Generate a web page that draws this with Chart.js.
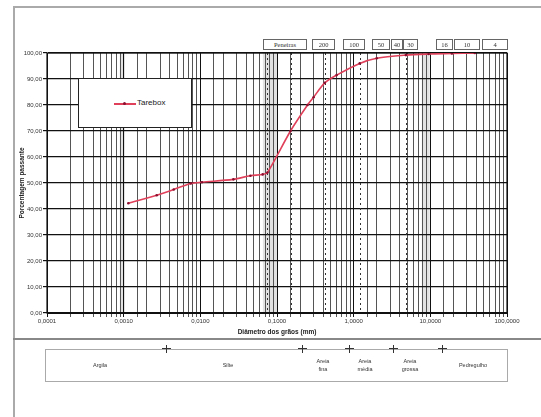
<!DOCTYPE html>
<html>
<head>
<meta charset="utf-8">
<script src="https://cdn.jsdelivr.net/npm/chart.js@4.4.1/dist/chart.umd.min.js"></script>
<style>
  html,body{margin:0;padding:0;background:#fff;}
  body{width:541px;height:417px;position:relative;overflow:hidden;font-family:"Liberation Sans",Arial,sans-serif;}
  #frameL{position:absolute;left:13px;top:6px;width:2px;height:411px;background:#aaa;}
  #frameT{position:absolute;left:13px;top:6px;width:528px;height:2px;background:#aaa;}
  #sep{position:absolute;left:13px;top:338px;width:528px;height:2px;background:#888;}
  #wrap{position:absolute;left:0;top:0;width:541px;height:345px;}
  .hbox{position:absolute;top:39px;height:11px;border:1px solid #666;box-sizing:border-box;background:#fff;
        font-family:"Liberation Serif","Times New Roman",serif;font-size:6.5px;line-height:9px;color:#333;text-align:center;}
  #legend{position:absolute;left:78px;top:78px;width:114px;height:50px;background:#fff;border:1px solid #222;box-sizing:border-box;}
  #legend .ln{position:absolute;left:35px;top:24px;width:22px;height:1.5px;background:#e0405a;}
  #legend .dot{position:absolute;left:44px;top:23px;width:3px;height:3px;border-radius:50%;background:#8a1030;}
  #legend .tx{position:absolute;left:58px;top:19px;font-size:8px;color:#222;}
  #cls{position:absolute;left:45px;top:349px;width:463px;height:33px;border:1px solid #aaa;box-sizing:border-box;}
  .tick{position:absolute;top:345px;width:1px;height:8px;background:#333;}
  .tickh{position:absolute;top:348px;width:9px;height:1px;background:#333;}
  .cl{position:absolute;font-size:5.5px;line-height:8px;color:#333;text-align:center;width:50px;margin-left:-25px;}
</style>
</head>
<body>
<div id="frameL"></div><div id="frameT"></div>
<div id="wrap"><canvas id="c" width="541" height="345"></canvas></div>
<div id="sep"></div>
<div id="legend"><div class="ln"></div><div class="dot"></div><div class="tx">Tarebox</div></div>
<div id="cls"></div>
<div id="hdr"></div>
<div id="clsLabels"></div>
<script>
// ---- data ----
const diameters = [0.00115, 0.0027, 0.0045, 0.0075, 0.0105, 0.027, 0.045, 0.065, 0.075, 0.15, 0.25, 0.3, 0.42, 0.6, 1.2, 2.0, 4.8, 9.5, 19.1, 38.1];
const passing   = [42.2, 45.3, 47.5, 49.8, 50.3, 51.4, 52.8, 53.3, 54.0, 70.0, 80.0, 83.0, 88.5, 91.5, 96.0, 98.0, 99.2, 99.6, 99.8, 100.0];
const seriesName = "Tarebox";
const sieveLines = [0.075, 0.15, 0.42, 1.2, 4.8];
const greyBands = [[0.00089, 0.00104], [0.0655, 0.1], [7.75, 9.8]];
const sieveHeader = ["Peneiras", "200", "100", "50", "40", "30", "16", "10", "4"];
const sieveHeaderPos = [[263,44],[312,23],[343,22],[372,18],[391,12],[403,15],[436,17],[454,26],[482,26]];
const soilClasses = ["Argila", "Silte", "Areia<br>fina", "Areia<br>média", "Areia<br>grossa", "Pedregulho"];
const soilLabelX = [100, 228, 323, 365, 410, 473];
const soilLabelY = [361, 361, 357, 357, 357, 361];
const soilTicksX = [166, 302, 349, 393, 442];
const xTitle = "Diâmetro dos grãos (mm)";
const yTitle = "Porcentagem passante";

// ---- html decorations ----
const hdr = document.getElementById('hdr');
sieveHeader.forEach((t,i)=>{
  const d=document.createElement('div'); d.className='hbox';
  d.style.left=sieveHeaderPos[i][0]+'px'; d.style.width=sieveHeaderPos[i][1]+'px'; d.textContent=t; hdr.appendChild(d);
});
const cl = document.getElementById('clsLabels');
soilClasses.forEach((t,i)=>{
  const d=document.createElement('div'); d.className='cl';
  d.style.left=soilLabelX[i]+'px'; d.style.top=soilLabelY[i]+'px'; d.innerHTML=t; cl.appendChild(d);
});
soilTicksX.forEach(x=>{
  const v=document.createElement('div'); v.className='tick'; v.style.left=x+'px'; cl.appendChild(v);
  const h=document.createElement('div'); h.className='tickh'; h.style.left=(x-4)+'px'; cl.appendChild(h);
});

// ---- chart ----
const isDecade = v => Math.abs(Math.log10(v) - Math.round(Math.log10(v))) < 1e-6;

const decor = {
  id:'decor',
  beforeDraw(chart){
    const {ctx, chartArea:a, scales:{x}} = chart;
    ctx.save();
    ctx.fillStyle='rgba(160,160,160,0.3)';
    greyBands.forEach(([l,r])=>{
      const x1=x.getPixelForValue(l), x2=x.getPixelForValue(r);
      ctx.fillRect(x1,a.top,x2-x1,a.bottom-a.top);
    });
    ctx.restore();
  },
  beforeDatasetsDraw(chart){
    const {ctx, chartArea:a, scales:{x}} = chart;
    ctx.save();
    ctx.strokeStyle='#333'; ctx.lineWidth=1; ctx.setLineDash([2,3]);
    sieveLines.forEach(v=>{
      const px=Math.round(x.getPixelForValue(v))+0.5;
      ctx.beginPath(); ctx.moveTo(px,a.top); ctx.lineTo(px,a.bottom); ctx.stroke();
    });
    ctx.setLineDash([]);
    ctx.strokeStyle='#111'; ctx.lineWidth=1.2;
    ctx.strokeRect(a.left,a.top,a.right-a.left,a.bottom-a.top);
    ctx.restore();
  }
};

new Chart(document.getElementById('c'), {
  type:'scatter',
  data:{datasets:[{
    label: seriesName,
    data: diameters.map((d,i)=>({x:d,y:passing[i]})),
    showLine:true,
    borderColor:'#e0405a',
    borderWidth:1.6,
    pointRadius:1.3,
    pointBackgroundColor:'#8a1030',
    pointBorderWidth:0,
    tension:0.3
  }]},
  options:{
    responsive:false,
    animation:false,
    devicePixelRatio:1,
    layout:{padding:{left:14,right:34,top:53,bottom:7}},
    plugins:{legend:{display:false},tooltip:{enabled:false}},
    scales:{
      x:{
        type:'logarithmic', min:0.0001, max:100,
        afterFit(s){ s.height=25; },
        grid:{color:ctx=> (ctx.tick && isDecade(ctx.tick.value)) ? '#111' : '#555', lineWidth:1, tickLength:4, drawTicks:true},
        border:{color:'#111'},
        ticks:{autoSkip:false, maxRotation:0, padding:1, color:'#333',
          font:{family:'"Liberation Sans", Arial, sans-serif', size:6},
          callback:(v)=> isDecade(v) ? v.toFixed(4).replace('.',',') : ''},
        title:{display:true,text:xTitle,color:'#222',font:{family:'"Liberation Sans", Arial, sans-serif',size:6.5,weight:'bold'},padding:{top:0,bottom:2}}
      },
      y:{
        min:0,max:100,
        afterFit(s){ s.width=33; },
        grid:{color:'#111', lineWidth:1.2, tickLength:4},
        border:{color:'#111'},
        ticks:{stepSize:10, padding:1, color:'#333',
          font:{family:'"Liberation Sans", Arial, sans-serif', size:6},
          callback:(v)=> v.toFixed(2).replace('.',',')},
        title:{display:true,text:yTitle,color:'#222',font:{family:'"Liberation Sans", Arial, sans-serif',size:6.5,weight:'bold'},padding:{top:4,bottom:0}}
      }
    }
  },
  plugins:[decor]
});
</script>
</body>
</html>
